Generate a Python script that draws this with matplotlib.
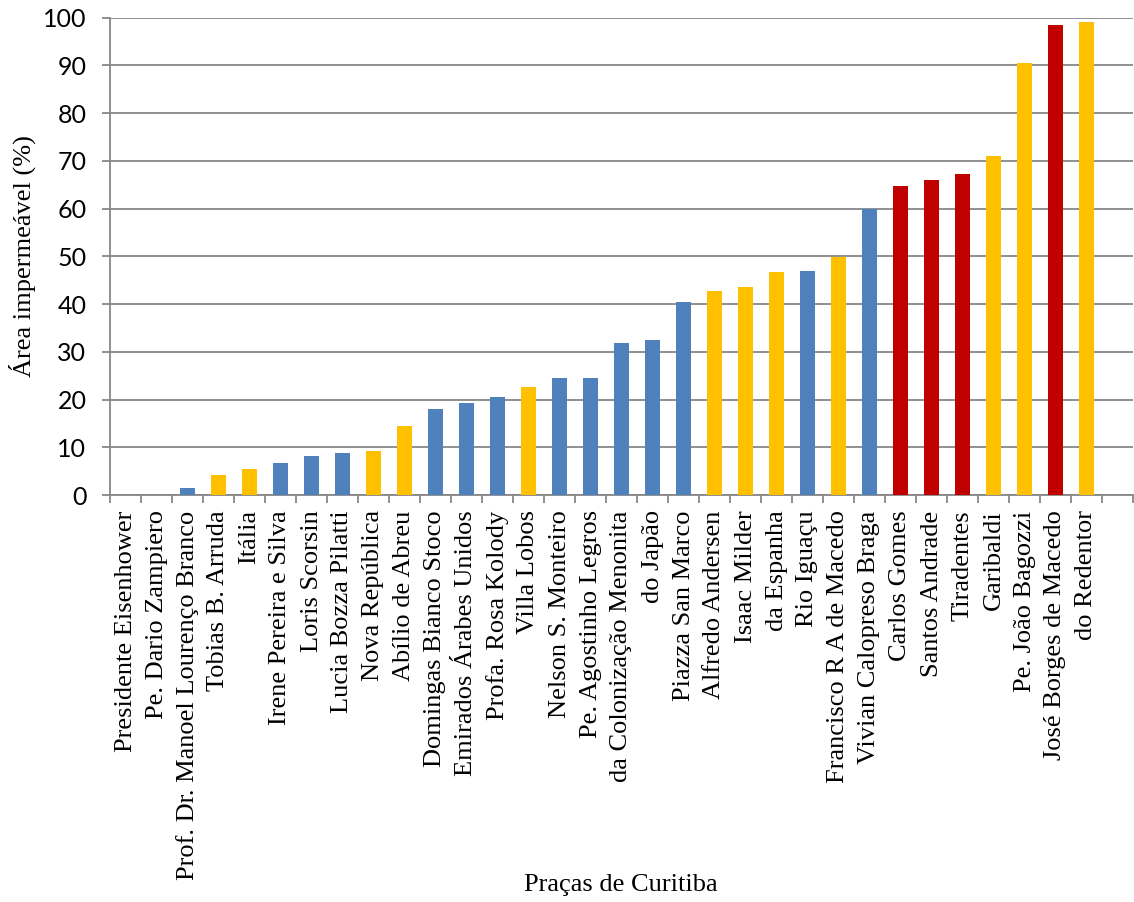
import numpy as np
import matplotlib
matplotlib.use("Agg")
import matplotlib.pyplot as plt
from matplotlib.ticker import FixedLocator, NullFormatter, FixedFormatter

# praças e área impermeável (%)
pracas = [
    "Presidente Eisenhower", "Pe. Dario Zampiero", "Prof. Dr. Manoel Lourenço Branco",
    "Tobias B. Arruda", "Itália", "Irene Pereira e Silva", "Loris Scorsin",
    "Lucia Bozza Pilatti", "Nova República", "Abílio de Abreu", "Domingas Bianco Stoco",
    "Emirados Árabes Unidos", "Profa. Rosa Kolody", "Villa Lobos", "Nelson S. Monteiro",
    "Pe. Agostinho Legros", "da Colonização Menonita", "do Japão", "Piazza San Marco",
    "Alfredo Andersen", "Isaac Milder", "da Espanha", "Rio Iguaçu",
    "Francisco R A de Macedo", "Vivian Calopreso Braga", "Carlos Gomes", "Santos Andrade",
    "Tiradentes", "Garibaldi", "Pe. João Bagozzi", "José Borges de Macedo", "do Redentor",
]
area = [0, 0, 1.4, 4.1, 5.4, 6.8, 8.2, 8.7, 9.3, 14.5, 18.1, 19.3, 20.5, 22.6, 24.6,
        24.6, 31.8, 32.5, 40.4, 42.7, 43.6, 46.7, 46.9, 49.8, 59.9, 64.7, 66.0, 67.3,
        71.1, 90.5, 98.4, 99.2]
# grupo de cada praça: a = azul, b = amarelo, c = vermelho
grupo = [
    "a", "a", "a", "b", "b", "a", "a", "a", "b", "b", "a", "a", "a", "b", "a", "a",
    "a", "a", "a", "b", "b", "b", "a", "b", "a", "c", "c", "c", "b", "b", "c", "b",
]
cores = {"a": "#4F81BD", "b": "#FFC000", "c": "#C00000"}

fig = plt.figure(figsize=(11.34, 9.02), dpi=100)
ax = fig.add_axes([110 / 1134, 1 - 495 / 902, 1023 / 1134, (495 - 17.7) / 902])

x = np.arange(len(pracas))
ax.bar(x, area, width=0.47, color=[cores[g] for g in grupo], zorder=3)

# uma categoria vazia no fim, como no original
ax.set_xlim(-0.5, len(pracas) + 0.5)
ax.set_ylim(0, 100)
ax.set_yticks(np.arange(0, 101, 10))
ax.yaxis.grid(True, color="#878787", linewidth=1.3, zorder=0)

# marcas do eixo x entre as categorias, rótulos no centro
ax.xaxis.set_major_locator(FixedLocator(np.arange(-0.5, len(pracas) + 1, 1)))
ax.xaxis.set_major_formatter(NullFormatter())
ax.xaxis.set_minor_locator(FixedLocator(x))
ax.xaxis.set_minor_formatter(FixedFormatter(pracas))
ax.tick_params(axis="x", which="major", length=6, width=1.3, color="#878787", direction="out")
ax.tick_params(axis="x", which="minor", length=0, pad=11, labelsize=19, labelrotation=90)
for lbl in ax.get_xticklabels(minor=True):
    lbl.set_fontfamily("Liberation Serif")

ax.tick_params(axis="y", length=6, width=1.3, color="#878787", pad=11, labelsize=18)
for lbl in ax.get_yticklabels():
    lbl.set_fontfamily("Lato")

for s in ["top", "right"]:
    ax.spines[s].set_visible(False)
for s in ["left", "bottom"]:
    ax.spines[s].set_color("#878787")
    ax.spines[s].set_linewidth(1.3)

fig.text(22 / 1134, 1 - 256 / 902, "Área impermeável (%)", rotation=90, ha="center",
         va="center", fontsize=19, family="Liberation Serif")
fig.text(621 / 1134, 1 - 885 / 902, "Praças de Curitiba", ha="center", va="center",
         fontsize=19, family="Liberation Serif")

fig.savefig("out.png", dpi=100)
